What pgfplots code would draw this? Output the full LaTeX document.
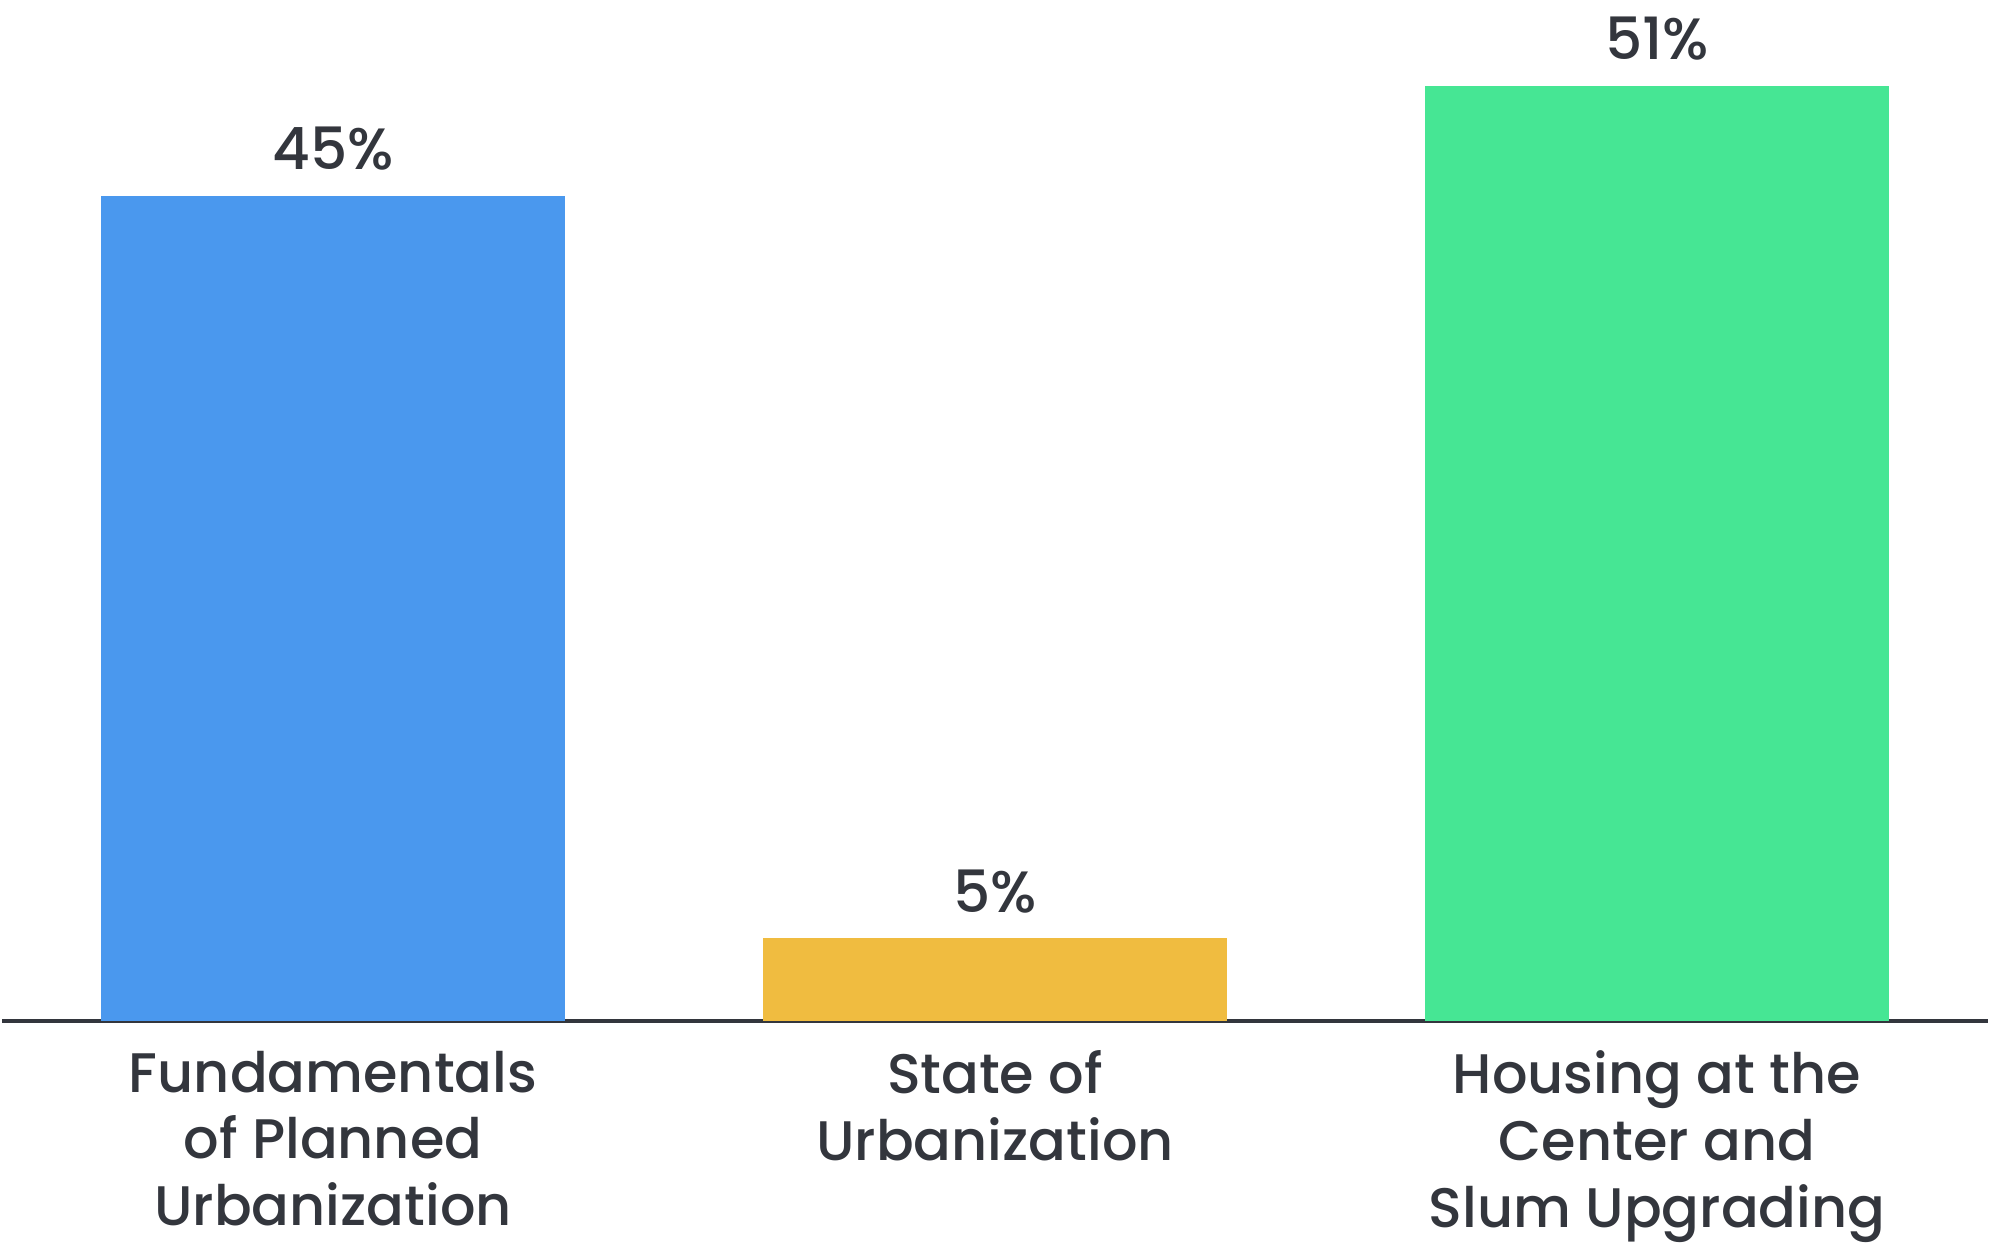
\documentclass[border=0pt]{standalone}
\usepackage{pgfplots}
\pgfplotsset{compat=1.18}
\usepackage{fontspec}
\setmainfont{Poppins}[UprightFont={* Medium}]
\definecolor{barblue}{HTML}{4A98EE}
\definecolor{baryellow}{HTML}{F0BC40}
\definecolor{bargreen}{HTML}{46E694}
\definecolor{txt}{HTML}{33363D}
\begin{document}
\begin{tikzpicture}
\begin{axis}[
  scale only axis,
  width=392pt, height=201.25pt,
  ybar, bar width=0.7, bar shift=0pt,
  xmin=-0.5, xmax=2.5,
  ymin=0, ymax=55.6,
  axis x line*=bottom,
  hide y axis,
  x axis line style={line width=0.8pt, color=txt, -},
  xtick={0,1,2},
  xticklabels={Fundamentals\\of Planned\\Urbanization,
               State of\\Urbanization,
               Housing at the\\Center and\\Slum Upgrading},
  major tick length=0pt,
  xticklabel style={align=center, font=\fontsize{11}{13.2}\selectfont, text=txt,
    inner sep=0pt, yshift=-5.7pt},
  point meta=explicit symbolic,
  nodes near coords,
  nodes near coords style={font=\fontsize{11.5}{13.2}\selectfont, text=txt, anchor=south, yshift=1.5pt},
  clip=false,
]
\addplot[fill=barblue, draw=none] coordinates {(0,45) [45\%]};
\addplot[fill=baryellow, draw=none] coordinates {(1,4.5) [5\%]};
\addplot[fill=bargreen, draw=none] coordinates {(2,51) [51\%]};
\end{axis}
\end{tikzpicture}
\end{document}
